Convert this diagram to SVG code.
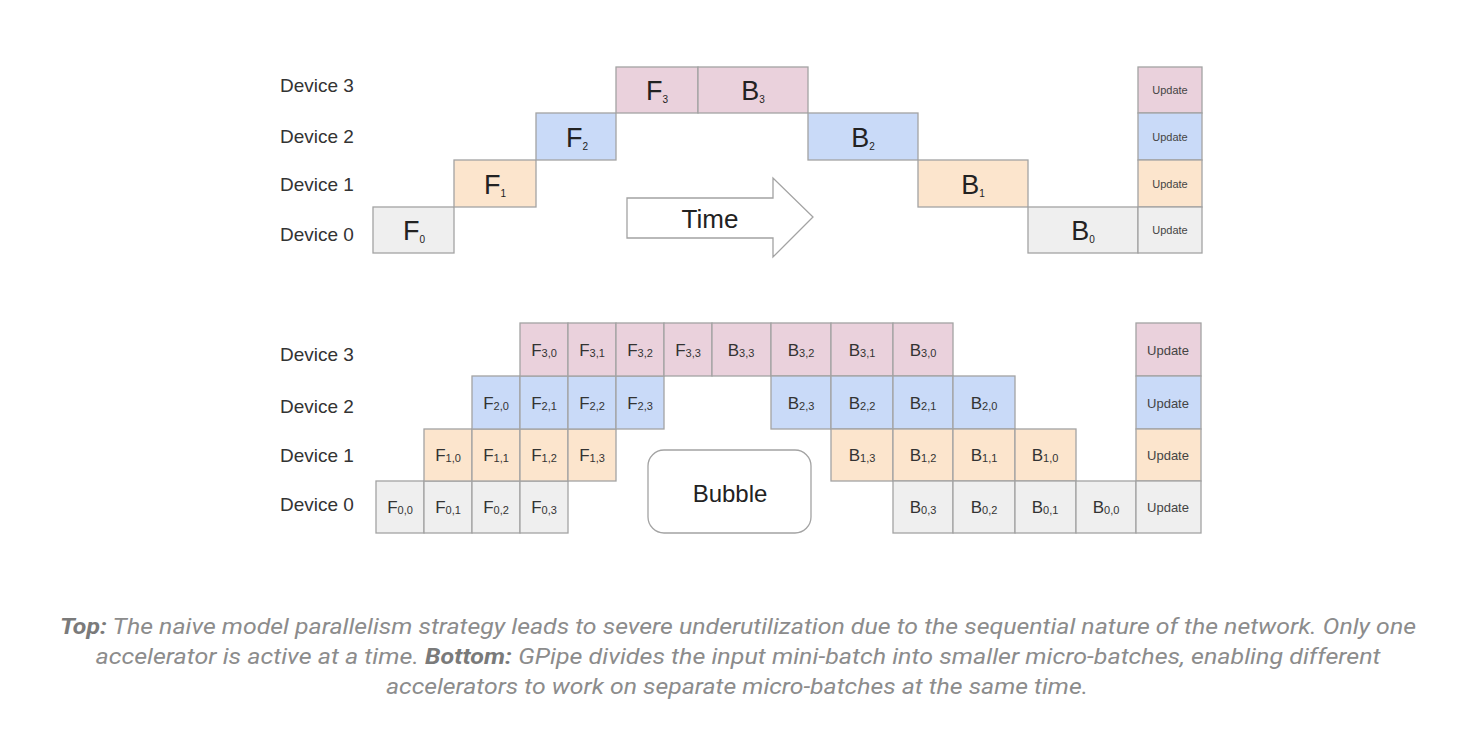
<svg xmlns="http://www.w3.org/2000/svg" width="1460" height="734" viewBox="0 0 1460 734">
<style>
.bg{fill:#ffffff}
.c{stroke:#a3a3a3;stroke-width:1.3}
.p{fill:#ead1dc}
.b{fill:#c9daf8}
.o{fill:#fce5cd}
.g{fill:#efefef}
.lbl{font-family:"Liberation Sans",Arial,sans-serif;font-size:19px;fill:#333}
.big{font-family:"Liberation Sans",Arial,sans-serif;font-size:27px;fill:#222;text-anchor:middle}
.sm{font-family:"Liberation Sans",Arial,sans-serif;font-size:17px;fill:#333;text-anchor:middle}
.sub1{font-size:10px}
.sub2{font-size:11px}
.up1{font-family:"Liberation Sans",Arial,sans-serif;font-size:11px;fill:#444;text-anchor:middle}
.up2{font-family:"Liberation Sans",Arial,sans-serif;font-size:13px;fill:#444;text-anchor:middle}
.cap{font-family:Roboto,"Liberation Sans",sans-serif;font-size:22px;font-style:italic;fill:#8c8c8c;text-anchor:middle}
.capb{font-weight:bold;fill:#7a7a7a}
</style>
<rect class="bg" x="0" y="0" width="1460" height="734"/>

<g id="top-labels">
<text class="lbl" x="280" y="92">Device 3</text>
<text class="lbl" x="280" y="143">Device 2</text>
<text class="lbl" x="280" y="191">Device 1</text>
<text class="lbl" x="280" y="241">Device 0</text>
</g>

<g id="top-F0"><rect class="c g" x="373" y="207" width="81" height="46"/><text class="big" x="414" y="240">F<tspan class="sub1" dy="3">0</tspan></text></g>
<g id="top-F1"><rect class="c o" x="454" y="160" width="82" height="47"/><text class="big" x="495" y="194">F<tspan class="sub1" dy="3">1</tspan></text></g>
<g id="top-F2"><rect class="c b" x="536" y="113" width="80" height="47"/><text class="big" x="577" y="147">F<tspan class="sub1" dy="3">2</tspan></text></g>
<g id="top-F3"><rect class="c p" x="616" y="67" width="82" height="46"/><text class="big" x="657" y="100">F<tspan class="sub1" dy="3">3</tspan></text></g>
<g id="top-B3"><rect class="c p" x="698" y="67" width="110" height="46"/><text class="big" x="753" y="100">B<tspan class="sub1" dy="3">3</tspan></text></g>
<g id="top-B2"><rect class="c b" x="808" y="113" width="110" height="47"/><text class="big" x="863" y="147">B<tspan class="sub1" dy="3">2</tspan></text></g>
<g id="top-B1"><rect class="c o" x="918" y="160" width="110" height="47"/><text class="big" x="973" y="194">B<tspan class="sub1" dy="3">1</tspan></text></g>
<g id="top-B0"><rect class="c g" x="1028" y="207" width="110" height="46"/><text class="big" x="1083" y="240">B<tspan class="sub1" dy="3">0</tspan></text></g>
<g id="top-U3"><rect class="c p" x="1138" y="67" width="64" height="46"/><text class="up1" x="1170" y="94">Update</text></g>
<g id="top-U2"><rect class="c b" x="1138" y="113" width="64" height="47"/><text class="up1" x="1170" y="141">Update</text></g>
<g id="top-U1"><rect class="c o" x="1138" y="160" width="64" height="47"/><text class="up1" x="1170" y="188">Update</text></g>
<g id="top-U0"><rect class="c g" x="1138" y="207" width="64" height="46"/><text class="up1" x="1170" y="234">Update</text></g>

<g id="time-arrow">
<polygon points="627,198 773,198 773,178 813,217 773,257 773,238 627,238" fill="#ffffff" stroke="#a3a3a3" stroke-width="1.3"/>
<text class="big" x="710" y="228" style="font-size:26px">Time</text>
</g>

<g id="bottom-labels">
<text class="lbl" x="280" y="361">Device 3</text>
<text class="lbl" x="280" y="413">Device 2</text>
<text class="lbl" x="280" y="462">Device 1</text>
<text class="lbl" x="280" y="511">Device 0</text>
</g>

<!-- Device 0 forward -->
<g id="F00"><rect class="c g" x="376" y="481" width="48" height="52"/><text class="sm" x="400" y="513">F<tspan class="sub2" dy="1">0,0</tspan></text></g>
<g id="F01"><rect class="c g" x="424" y="481" width="48" height="52"/><text class="sm" x="448" y="513">F<tspan class="sub2" dy="1">0,1</tspan></text></g>
<g id="F02"><rect class="c g" x="472" y="481" width="48" height="52"/><text class="sm" x="496" y="513">F<tspan class="sub2" dy="1">0,2</tspan></text></g>
<g id="F03"><rect class="c g" x="520" y="481" width="48" height="52"/><text class="sm" x="544" y="513">F<tspan class="sub2" dy="1">0,3</tspan></text></g>
<!-- Device 1 forward -->
<g id="F10"><rect class="c o" x="424" y="429" width="48" height="52"/><text class="sm" x="448" y="461">F<tspan class="sub2" dy="1">1,0</tspan></text></g>
<g id="F11"><rect class="c o" x="472" y="429" width="48" height="52"/><text class="sm" x="496" y="461">F<tspan class="sub2" dy="1">1,1</tspan></text></g>
<g id="F12"><rect class="c o" x="520" y="429" width="48" height="52"/><text class="sm" x="544" y="461">F<tspan class="sub2" dy="1">1,2</tspan></text></g>
<g id="F13"><rect class="c o" x="568" y="429" width="48" height="52"/><text class="sm" x="592" y="461">F<tspan class="sub2" dy="1">1,3</tspan></text></g>
<!-- Device 2 forward -->
<g id="F20"><rect class="c b" x="472" y="376" width="48" height="53"/><text class="sm" x="496" y="409">F<tspan class="sub2" dy="1">2,0</tspan></text></g>
<g id="F21"><rect class="c b" x="520" y="376" width="48" height="53"/><text class="sm" x="544" y="409">F<tspan class="sub2" dy="1">2,1</tspan></text></g>
<g id="F22"><rect class="c b" x="568" y="376" width="48" height="53"/><text class="sm" x="592" y="409">F<tspan class="sub2" dy="1">2,2</tspan></text></g>
<g id="F23"><rect class="c b" x="616" y="376" width="48" height="53"/><text class="sm" x="640" y="409">F<tspan class="sub2" dy="1">2,3</tspan></text></g>
<!-- Device 3 forward -->
<g id="F30"><rect class="c p" x="520" y="323" width="48" height="53"/><text class="sm" x="544" y="356">F<tspan class="sub2" dy="1">3,0</tspan></text></g>
<g id="F31"><rect class="c p" x="568" y="323" width="48" height="53"/><text class="sm" x="592" y="356">F<tspan class="sub2" dy="1">3,1</tspan></text></g>
<g id="F32"><rect class="c p" x="616" y="323" width="48" height="53"/><text class="sm" x="640" y="356">F<tspan class="sub2" dy="1">3,2</tspan></text></g>
<g id="F33"><rect class="c p" x="664" y="323" width="48" height="53"/><text class="sm" x="688" y="356">F<tspan class="sub2" dy="1">3,3</tspan></text></g>
<!-- Device 3 backward -->
<g id="B33"><rect class="c p" x="712" y="323" width="59" height="53"/><text class="sm" x="741" y="356">B<tspan class="sub2" dy="1">3,3</tspan></text></g>
<g id="B32"><rect class="c p" x="771" y="323" width="60" height="53"/><text class="sm" x="801" y="356">B<tspan class="sub2" dy="1">3,2</tspan></text></g>
<g id="B31"><rect class="c p" x="831" y="323" width="62" height="53"/><text class="sm" x="862" y="356">B<tspan class="sub2" dy="1">3,1</tspan></text></g>
<g id="B30"><rect class="c p" x="893" y="323" width="60" height="53"/><text class="sm" x="923" y="356">B<tspan class="sub2" dy="1">3,0</tspan></text></g>
<!-- Device 2 backward -->
<g id="B23"><rect class="c b" x="771" y="376" width="60" height="53"/><text class="sm" x="801" y="409">B<tspan class="sub2" dy="1">2,3</tspan></text></g>
<g id="B22"><rect class="c b" x="831" y="376" width="62" height="53"/><text class="sm" x="862" y="409">B<tspan class="sub2" dy="1">2,2</tspan></text></g>
<g id="B21"><rect class="c b" x="893" y="376" width="60" height="53"/><text class="sm" x="923" y="409">B<tspan class="sub2" dy="1">2,1</tspan></text></g>
<g id="B20"><rect class="c b" x="953" y="376" width="62" height="53"/><text class="sm" x="984" y="409">B<tspan class="sub2" dy="1">2,0</tspan></text></g>
<!-- Device 1 backward -->
<g id="B13"><rect class="c o" x="831" y="429" width="62" height="52"/><text class="sm" x="862" y="461">B<tspan class="sub2" dy="1">1,3</tspan></text></g>
<g id="B12"><rect class="c o" x="893" y="429" width="60" height="52"/><text class="sm" x="923" y="461">B<tspan class="sub2" dy="1">1,2</tspan></text></g>
<g id="B11"><rect class="c o" x="953" y="429" width="62" height="52"/><text class="sm" x="984" y="461">B<tspan class="sub2" dy="1">1,1</tspan></text></g>
<g id="B10"><rect class="c o" x="1015" y="429" width="61" height="52"/><text class="sm" x="1045" y="461">B<tspan class="sub2" dy="1">1,0</tspan></text></g>
<!-- Device 0 backward -->
<g id="B03"><rect class="c g" x="893" y="481" width="60" height="52"/><text class="sm" x="923" y="513">B<tspan class="sub2" dy="1">0,3</tspan></text></g>
<g id="B02"><rect class="c g" x="953" y="481" width="62" height="52"/><text class="sm" x="984" y="513">B<tspan class="sub2" dy="1">0,2</tspan></text></g>
<g id="B01"><rect class="c g" x="1015" y="481" width="61" height="52"/><text class="sm" x="1045" y="513">B<tspan class="sub2" dy="1">0,1</tspan></text></g>
<g id="B00"><rect class="c g" x="1076" y="481" width="60" height="52"/><text class="sm" x="1106" y="513">B<tspan class="sub2" dy="1">0,0</tspan></text></g>
<!-- Updates -->
<g id="U3"><rect class="c p" x="1136" y="323" width="65" height="53"/><text class="up2" x="1168" y="355">Update</text></g>
<g id="U2"><rect class="c b" x="1136" y="376" width="65" height="53"/><text class="up2" x="1168" y="408">Update</text></g>
<g id="U1"><rect class="c o" x="1136" y="429" width="65" height="52"/><text class="up2" x="1168" y="460">Update</text></g>
<g id="U0"><rect class="c g" x="1136" y="481" width="65" height="52"/><text class="up2" x="1168" y="512">Update</text></g>

<g id="bubble">
<rect x="648" y="450" width="163" height="83" rx="16" ry="16" fill="#ffffff" stroke="#a3a3a3" stroke-width="1.3"/>
<text class="big" x="730" y="502" style="font-size:24px">Bubble</text>
</g>

<g id="caption">
<text class="cap" x="738" y="634" textLength="1356" lengthAdjust="spacingAndGlyphs"><tspan class="capb">Top:</tspan> The naive model parallelism strategy leads to severe underutilization due to the sequential nature of the network. Only one</text>
<text class="cap" x="738" y="664" textLength="1285" lengthAdjust="spacingAndGlyphs">accelerator is active at a time. <tspan class="capb">Bottom:</tspan> GPipe divides the input mini-batch into smaller micro-batches, enabling different</text>
<text class="cap" x="737" y="694" textLength="702" lengthAdjust="spacingAndGlyphs">accelerators to work on separate micro-batches at the same time.</text>
</g>
</svg>
